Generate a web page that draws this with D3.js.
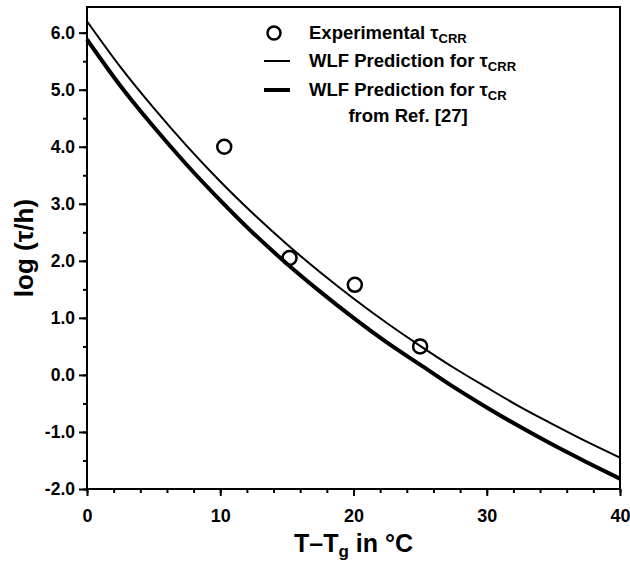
<!DOCTYPE html>
<html>
<head>
<meta charset="utf-8">
<script src="https://cdn.jsdelivr.net/npm/d3@7"></script>
<style>
	body { margin: 0; background: #fff; }
	svg { display: block; font-family: "Liberation Sans", Arial, sans-serif; font-weight: bold; }
</style>
</head>
<body>
<div id="chart"></div>
<script>
// measured tau_CRR (T - Tg in degC, log tau/h)
const expX = [10.3, 15.2, 20.1, 25.0];
const expY = [4.0, 2.05, 1.58, 0.5];

// curves
const curveX = [0, 2.5, 5, 7.5, 10, 12.5, 15, 17.5, 20, 22.5, 25, 27.5, 30, 32.5, 35, 37.5, 40];
const wlfCRR = [6.2, 5.4, 4.68, 4.01, 3.39, 2.82, 2.29, 1.8, 1.34, 0.91, 0.51, 0.13, -0.22, -0.56, -0.87, -1.17, -1.45];
const wlfCR = [5.88, 5.07, 4.35, 3.68, 3.06, 2.48, 1.95, 1.46, 1.0, 0.57, 0.18, -0.21, -0.57, -0.91, -1.23, -1.53, -1.82];

const xTicks = [0, 10, 20, 30, 40];
const yTicks = [-2, -1, 0, 1, 2, 3, 4, 5, 6];

const width = 630, height = 565;
const plot = { left: 87, right: 620, top: 7, bottom: 489 };

const svg = d3.select('#chart').append('svg')
	.attr('width', width)
	.attr('height', height);

const x = d3.scaleLinear().domain([0, 40]).range([plot.left, plot.right]);
const y = d3.scaleLinear().domain([-2, 6.45]).range([plot.bottom, plot.top]);

// frame
svg.append('rect')
	.attr('x', plot.left)
	.attr('y', plot.top)
	.attr('width', plot.right - plot.left)
	.attr('height', plot.bottom - plot.top)
	.attr('fill', 'none')
	.attr('stroke', '#000')
	.attr('stroke-width', 2);

// minor ticks
svg.append('g')
	.attr('transform', `translate(0,${plot.bottom})`)
	.call(d3.axisBottom(x).tickValues(d3.range(0, 41, 2)).tickSize(4).tickFormat(''))
	.call(g => g.select('.domain').remove())
	.call(g => g.selectAll('line').attr('stroke-width', 2));

svg.append('g')
	.attr('transform', `translate(${plot.left},0)`)
	.call(d3.axisLeft(y).tickValues(d3.range(-2, 6.01, 0.5)).tickSize(4).tickFormat(''))
	.call(g => g.select('.domain').remove())
	.call(g => g.selectAll('line').attr('stroke-width', 2));

// major ticks + labels
svg.append('g')
	.attr('transform', `translate(0,${plot.bottom})`)
	.call(d3.axisBottom(x).tickValues(xTicks).tickSize(7).tickPadding(13).tickFormat(d => d))
	.call(g => g.select('.domain').remove())
	.call(g => g.selectAll('line').attr('stroke-width', 2))
	.call(g => g.selectAll('text')
		.attr('fill', '#000')
		.style('font-size', '18px')
		.style('font-family', '"Liberation Sans", Arial, sans-serif')
		.style('font-weight', 'bold'));

svg.append('g')
	.attr('transform', `translate(${plot.left},0)`)
	.call(d3.axisLeft(y).tickValues(yTicks).tickSize(8).tickPadding(4).tickFormat(d => d.toFixed(1)))
	.call(g => g.select('.domain').remove())
	.call(g => g.selectAll('line').attr('stroke-width', 2))
	.call(g => g.selectAll('text')
		.attr('fill', '#000')
		.style('font-size', '17.5px')
		.style('font-family', '"Liberation Sans", Arial, sans-serif')
		.style('font-weight', 'bold'));

// axis titles
const xTitle = svg.append('text')
	.attr('x', (plot.left + plot.right) / 2)
	.attr('y', 552)
	.attr('text-anchor', 'middle')
	.style('font-size', '25px');
xTitle.append('tspan').text('T\u2013T');
xTitle.append('tspan').attr('dy', 5).style('font-size', '17px').text('g');
xTitle.append('tspan').attr('dy', -5).text(' in \u00b0C');

svg.append('text')
	.attr('transform', `translate(33,${(plot.top + plot.bottom) / 2}) rotate(-90)`)
	.attr('text-anchor', 'middle')
	.style('font-size', '26px')
	.text('log (\u03c4/h)');

// curves
const line = d3.line()
	.x((d, i) => x(curveX[i]))
	.y(d => y(d))
	.curve(d3.curveMonotoneX);

svg.append('path')
	.datum(wlfCRR)
	.attr('d', line)
	.attr('fill', 'none')
	.attr('stroke', '#000')
	.attr('stroke-width', 2);

svg.append('path')
	.datum(wlfCR)
	.attr('d', line)
	.attr('fill', 'none')
	.attr('stroke', '#000')
	.attr('stroke-width', 4);

// experimental points
svg.append('g')
	.selectAll('circle')
	.data(expX)
	.join('circle')
	.attr('cx', d => x(d))
	.attr('cy', (d, i) => y(expY[i]))
	.attr('r', 7)
	.attr('fill', 'none')
	.attr('stroke', '#000')
	.attr('stroke-width', 2.5);

// legend
const legend = svg.append('g').style('font-size', '18.5px');

legend.append('circle')
	.attr('cx', 274).attr('cy', 33).attr('r', 6.5)
	.attr('fill', 'none').attr('stroke', '#000').attr('stroke-width', 2.5);

legend.append('line')
	.attr('x1', 264).attr('x2', 290).attr('y1', 61).attr('y2', 61)
	.attr('stroke', '#000').attr('stroke-width', 2);

legend.append('line')
	.attr('x1', 264).attr('x2', 290).attr('y1', 90).attr('y2', 90)
	.attr('stroke', '#000').attr('stroke-width', 4);

function tauLabel(yPos, prefix, sub) {
	const t = legend.append('text').attr('x', 309).attr('y', yPos);
	t.append('tspan').text(prefix + '\u03c4');
	t.append('tspan').attr('dy', 4).style('font-size', '13px').text(sub);
}

tauLabel(39, 'Experimental ', 'CRR');
tauLabel(67, 'WLF Prediction for ', 'CRR');
tauLabel(96, 'WLF Prediction for ', 'CR');

legend.append('text')
	.attr('x', 408).attr('y', 122)
	.attr('text-anchor', 'middle')
	.text('from Ref. [27]');
</script>
</body>
</html>
